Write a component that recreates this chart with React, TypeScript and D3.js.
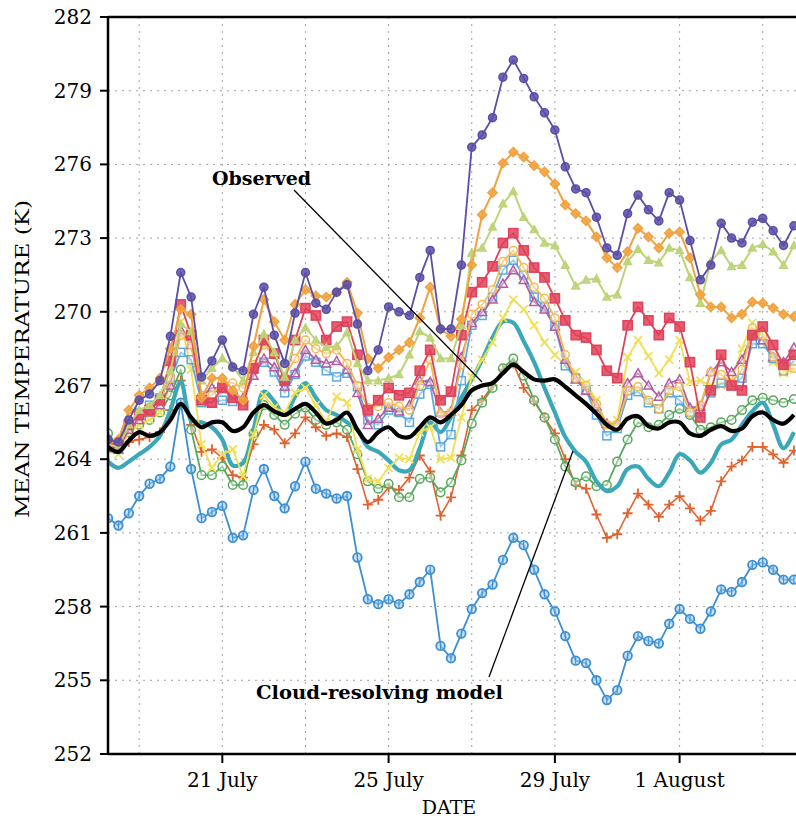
import React from "react";
import * as d3 from "d3";

// time grid: every 6 hours, day-of-July (1 August = 32)
const DAYS = d3.range(67).map((i) => 18.25 + i * 0.25);

const PURPLE = [264.8,264.7,265.6,266.4,266.65,267.2,269.0,271.6,270.6,267.35,268.0,268.85,267.75,267.6,269.9,271.0,269.05,267.9,269.95,271.6,270.35,270.1,270.8,271.1,269.5,267.6,268.45,270.2,270.0,269.85,271.4,272.5,269.3,269.3,271.9,276.7,277.2,277.9,279.55,280.25,279.5,278.75,278.1,277.4,275.9,275.0,274.85,273.85,272.6,272.3,274.0,274.75,274.15,273.7,274.85,274.55,272.9,271.3,271.9,273.6,273.0,272.8,273.65,273.8,273.3,272.7,273.5];
const ORANGE = [264.7,264.8,266.0,266.6,266.9,267.3,268.5,270.1,269.9,266.5,267.3,267.3,266.8,266.4,268.6,270.5,269.6,268.85,270.3,270.9,270.65,270.6,270.8,271.2,269.95,268.1,267.7,268.15,268.45,268.75,269.75,271.0,269.3,269.0,269.7,271.9,273.95,274.85,276.05,276.5,276.3,275.95,275.7,275.2,274.35,274.0,273.7,273.05,272.2,271.8,272.45,273.4,273.05,272.6,273.2,273.25,272.2,270.7,270.2,270.2,269.75,269.9,270.4,270.35,270.15,269.9,269.8];
const LIGHT_GREEN = [264.6,264.5,265.4,266.0,266.2,266.6,267.6,269.5,269.2,267.2,267.7,268.1,267.8,267.2,268.35,269.1,268.35,267.35,268.85,269.35,268.85,268.55,268.6,269.15,267.9,267.2,267.2,267.3,267.45,268.25,269.2,268.95,268.1,268.1,269.45,272.4,272.6,273.45,274.4,274.9,273.85,273.35,272.8,272.7,271.9,271.05,271.3,271.35,270.6,270.7,272.05,272.55,272.1,272.0,272.6,272.5,271.4,270.35,272.05,272.5,271.85,271.9,272.6,272.75,272.45,271.9,272.7];
const RED = [264.5,264.6,265.4,265.8,266.0,266.4,268.0,270.3,269.05,266.4,266.3,266.9,266.5,266.2,267.7,268.85,268.3,267.2,268.85,270.15,269.85,268.85,269.4,269.6,268.25,266.0,266.4,266.9,266.6,266.7,267.6,268.45,266.4,266.75,269.05,270.8,271.2,271.85,272.8,273.2,272.5,271.8,271.4,270.55,269.65,269.05,268.95,268.45,267.6,267.3,269.45,270.2,269.65,269.05,269.75,269.4,267.95,265.7,266.8,268.25,267.0,266.8,269.05,269.4,268.65,267.85,268.25];
const LIGHT_ORANGE = [264.55,264.5,265.4,265.8,266.1,266.4,267.3,269.05,268.65,266.6,266.6,267.15,267.1,266.9,267.85,268.65,268.25,267.35,268.1,268.85,268.5,268.3,268.45,267.9,267.0,266.1,266.15,266.3,266.15,266.0,267.0,268.05,265.85,265.9,267.85,269.9,270.3,270.9,272.05,272.5,271.8,271.0,270.55,269.75,268.25,267.3,267.0,266.25,265.4,265.4,266.8,266.95,266.4,266.05,266.8,266.95,265.9,266.2,267.55,267.45,267.1,267.65,269.35,269.05,268.15,267.6,267.7];
const PINK = [264.5,264.4,265.2,265.6,265.9,266.2,267.0,269.25,268.65,266.55,266.9,266.9,266.6,266.5,267.4,268.1,267.75,266.95,267.5,268.45,268.05,267.9,268.0,267.65,266.7,265.4,265.65,266.1,265.95,266.2,267.2,267.15,265.9,265.95,268.15,269.55,270.0,270.5,271.15,271.7,271.3,270.4,270.1,269.4,268.05,267.25,266.8,266.15,265.45,265.4,267.1,267.5,267.0,266.55,267.1,267.25,266.1,266.15,267.55,267.95,267.55,268.05,269.1,268.85,268.15,267.95,268.55];
const LIGHT_BLUE = [264.5,264.4,265.4,265.9,266.2,266.5,267.25,268.35,268.05,266.3,266.3,266.4,266.35,266.35,267.65,267.95,267.55,266.7,267.45,268.2,267.95,267.6,267.35,267.5,266.95,265.6,265.4,266.0,265.9,265.5,266.65,267.05,264.5,265.0,267.2,269.45,269.85,270.6,271.7,272.1,271.5,270.6,270.2,269.45,267.8,267.3,266.8,265.8,264.95,265.25,266.6,266.75,266.3,266.05,266.7,266.4,265.9,265.9,266.7,267.1,267.0,267.3,268.7,268.7,268.1,267.6,268.0];
const YELLOW = [264.4,264.2,265.1,265.4,265.6,265.9,267.0,269.6,267.65,264.6,263.65,264.2,264.4,263.3,265.0,266.6,266.1,265.9,266.7,266.9,266.2,265.5,266.55,266.3,264.4,263.2,263.1,263.65,264.05,264.0,265.1,265.3,264.0,264.05,265.7,267.35,268.05,268.75,269.75,270.5,270.1,269.45,268.75,268.25,267.85,267.55,267.1,266.4,265.4,265.6,268.15,268.85,268.2,267.5,268.05,268.85,267.15,267.2,267.0,267.0,267.2,268.5,269.55,269.0,267.95,267.5,267.65];
const TEAL = [263.9,263.65,263.9,264.2,264.5,264.95,266.0,267.15,265.6,265.5,265.3,264.8,263.75,263.85,265.2,266.75,266.35,265.8,266.55,267.1,266.5,266.0,265.8,265.5,265.2,264.5,264.3,263.95,263.55,263.55,264.45,265.5,265.1,265.7,266.5,267.25,268.05,268.95,269.6,269.55,268.8,267.95,266.9,265.9,264.9,264.3,263.9,263.1,262.7,262.9,263.6,263.7,263.2,262.9,263.45,264.2,263.95,263.45,263.85,264.6,264.8,265.4,265.95,266.3,265.4,264.45,265.1];
const GREEN = [265.05,264.5,265.1,265.4,265.6,265.9,266.6,267.65,265.2,263.35,263.35,263.7,262.95,262.95,265.05,266.2,265.8,265.4,265.85,266.1,265.6,265.4,265.5,265.2,264.2,263.1,262.8,263.0,262.45,262.45,263.2,263.25,262.65,263.05,263.95,265.45,266.3,266.9,267.7,268.1,267.4,266.4,265.7,264.8,263.7,263.05,263.3,262.9,262.95,263.9,264.8,265.5,265.3,265.4,265.8,266.05,265.8,265.2,265.3,265.5,265.6,266.0,266.4,266.5,266.4,266.3,266.45];
const PLUS = [264.6,264.6,264.7,264.8,264.9,265.1,266.0,267.2,265.4,264.3,264.4,264.05,263.35,263.25,264.6,265.4,265.2,264.65,265.05,265.7,265.3,264.95,265.05,264.9,263.6,262.15,262.35,262.85,262.75,263.25,264.15,263.5,261.7,262.45,264.15,266.0,266.4,267.0,267.65,267.9,266.9,266.35,265.7,265.05,264.0,262.95,262.8,261.75,260.8,260.95,261.8,262.6,262.15,261.65,262.15,262.5,262.0,261.5,261.9,263.1,263.7,263.95,264.5,264.5,264.2,263.85,264.35];
const BLUE = [261.6,261.3,261.8,262.5,263.0,263.2,263.7,266.3,263.6,261.6,261.85,262.1,260.8,260.9,262.75,263.6,262.5,262.0,262.9,263.9,262.8,262.6,262.4,262.5,260.0,258.3,258.1,258.3,258.1,258.5,259.0,259.5,256.4,255.9,256.9,257.9,258.55,258.9,259.9,260.8,260.5,259.5,258.5,257.8,256.8,255.8,255.7,255.0,254.2,254.6,256.0,256.8,256.6,256.5,257.3,257.9,257.5,257.1,257.8,258.7,258.6,259.0,259.7,259.8,259.5,259.1,259.1];
const OBSERVED = [264.5,264.3,264.75,265.1,264.95,265.1,265.6,266.25,265.7,265.3,265.5,265.5,265.15,265.3,265.9,266.2,265.95,265.8,266.05,266.25,265.9,265.45,265.6,265.9,265.2,264.7,265.1,265.3,264.95,264.9,265.3,265.7,265.5,265.8,266.2,266.8,267.0,267.1,267.5,267.85,267.55,267.25,267.2,267.25,266.95,266.6,266.25,265.85,265.4,265.2,265.65,265.75,265.35,265.25,265.5,265.5,265.05,264.95,265.2,265.35,265.15,265.25,265.75,265.9,265.6,265.45,265.8];

const Y_TICKS = [252, 255, 258, 261, 264, 267, 270, 273, 276, 279, 282];
const X_TICKS = [21, 25, 29, 32];
const X_TICK_LABELS = ["21 July", "25 July", "29 July", "1 August"];
const X_GRID = [19, 21, 23, 25, 27, 29, 32, 34];

type Marker = "circle" | "dotCircle" | "diamond" | "triangle" | "square" | "cross" | "x" | "none";

interface Series {
  values: number[];
  color: string;
  marker: Marker;
  filled: boolean;
  width: number;
  size: number;
  smooth?: boolean;
}

// drawn bottom to top
const SERIES: Series[] = [
  { values: BLUE, color: "#3b8fd2", marker: "dotCircle", filled: false, width: 1.8, size: 4.3 },
  { values: PLUS, color: "#e0622f", marker: "cross", filled: false, width: 1.6, size: 5 },
  { values: GREEN, color: "#55a95b", marker: "circle", filled: false, width: 1.8, size: 4.3 },
  { values: TEAL, color: "#3aa8b8", marker: "none", filled: false, width: 4.2, size: 0, smooth: true },
  { values: YELLOW, color: "#f0e055", marker: "x", filled: false, width: 1.8, size: 4 },
  { values: LIGHT_BLUE, color: "#5aa9df", marker: "square", filled: false, width: 1.8, size: 4 },
  { values: PINK, color: "#b25ea2", marker: "triangle", filled: false, width: 1.8, size: 4.5 },
  { values: LIGHT_ORANGE, color: "#f2bb52", marker: "circle", filled: false, width: 1.8, size: 4 },
  { values: RED, color: "#e0425a", marker: "square", filled: true, width: 1.8, size: 4.6 },
  { values: LIGHT_GREEN, color: "#bcd477", marker: "triangle", filled: true, width: 2, size: 3.8 },
  { values: ORANGE, color: "#f1a23e", marker: "diamond", filled: true, width: 2, size: 4.6 },
  { values: PURPLE, color: "#5a4ea6", marker: "circle", filled: true, width: 1.8, size: 4 },
  { values: OBSERVED, color: "#000000", marker: "none", filled: false, width: 4.2, size: 0, smooth: true },
];

const W = 796;
const H = 819;
const M = { left: 108, right: 796, top: 17, bottom: 754 };
const FONT = "'DejaVu Serif', serif";

const MarkerShape: React.FC<{ x: number; y: number; s: Series }> = ({ x, y, s }) => {
  const r = s.size;
  const fill = s.filled ? s.color : "#fff";
  const common = { stroke: s.color, strokeWidth: 1.5, fill, fillOpacity: s.filled ? 0.85 : 0.4 };
  switch (s.marker) {
    case "circle":
      return <circle cx={x} cy={y} r={r} {...common} />;
    case "dotCircle":
      return (
        <g>
          <circle cx={x} cy={y} r={r} stroke={s.color} strokeWidth={1.8} fill="#a9cdec" fillOpacity={0.6} />
          <line x1={x} y1={y - r + 1} x2={x} y2={y + r - 1} stroke={s.color} strokeWidth={1.1} />
        </g>
      );
    case "diamond":
      return <path d={`M${x},${y - r}L${x + r},${y}L${x},${y + r}L${x - r},${y}Z`} {...common} />;
    case "triangle":
      return <path d={`M${x},${y - r}L${x + r},${y + r * 0.8}L${x - r},${y + r * 0.8}Z`} {...common} />;
    case "square":
      return <rect x={x - r} y={y - r} width={2 * r} height={2 * r} {...common} />;
    case "cross":
      return <path d={`M${x - r},${y}H${x + r}M${x},${y - r}V${y + r}`} stroke={s.color} strokeWidth={1.8} />;
    case "x":
      return <path d={`M${x - r},${y - r}L${x + r},${y + r}M${x - r},${y + r}L${x + r},${y - r}`} stroke={s.color} strokeWidth={1.8} />;
    default:
      return null;
  }
};

export default function App() {
  const x = d3.scaleLinear().domain([18.25, 34.8]).range([M.left, M.right]);
  const y = d3.scaleLinear().domain([252, 282]).range([M.bottom, M.top]);

  const lineFor = (s: Series) =>
    d3
      .line<number>()
      .x((_, i) => x(DAYS[i]))
      .y((v) => y(v))
      .curve(s.smooth ? d3.curveCatmullRom.alpha(0.5) : d3.curveLinear)(s.values) || "";

  return (
    <svg
      width={W}
      height={H}
      style={{ position: "absolute", left: 0, top: 0, background: "#fff" }}
      fontFamily={FONT}
    >
      <defs>
        <clipPath id="plot">
          <rect x={M.left} y={M.top} width={M.right - M.left} height={M.bottom - M.top} />
        </clipPath>
      </defs>

      {/* grid */}
      <g stroke="#a0a0a0" strokeWidth={1} strokeDasharray="2,5">
        {Y_TICKS.slice(1, -1).map((t) => (
          <line key={t} x1={M.left} x2={M.right} y1={y(t)} y2={y(t)} />
        ))}
        {X_GRID.map((d) => (
          <line key={d} x1={x(d)} x2={x(d)} y1={M.top} y2={M.bottom} />
        ))}
      </g>

      {/* series */}
      <g clipPath="url(#plot)">
        {SERIES.map((s, si) => (
          <g key={si}>
            <path
              d={lineFor(s)}
              fill="none"
              stroke={s.color}
              strokeWidth={s.width}
              strokeLinejoin="round"
            />
            {s.marker !== "none" &&
              s.values.map((v, i) => <MarkerShape key={i} x={x(DAYS[i])} y={y(v)} s={s} />)}
          </g>
        ))}
      </g>

      {/* frame */}
      <g stroke="#000" strokeWidth={2.5} fill="none">
        <line x1={M.left} x2={M.right} y1={M.top} y2={M.top} />
        <line x1={M.left} x2={M.left} y1={M.top - 1} y2={M.bottom + 1} />
        <line x1={M.left} x2={M.right} y1={M.bottom} y2={M.bottom} />
      </g>

      {/* y axis */}
      {Y_TICKS.map((t) => (
        <g key={t}>
          <line x1={M.left - 8} x2={M.left} y1={y(t)} y2={y(t)} stroke="#000" strokeWidth={2} />
          <text x={M.left - 16} y={y(t) + 7} textAnchor="end" fontSize={20}>
            {t}
          </text>
        </g>
      ))}
      <text
        transform={`translate(29, 359) rotate(-90)`}
        textAnchor="middle"
        fontSize={19}
        textLength={318}
        lengthAdjust="spacingAndGlyphs"
      >
        MEAN TEMPERATURE (K)
      </text>

      {/* x axis */}
      {X_TICKS.map((d, i) => (
        <g key={d}>
          <line x1={x(d)} x2={x(d)} y1={M.bottom} y2={M.bottom + 9} stroke="#000" strokeWidth={2} />
          <text x={x(d)} y={787} textAnchor="middle" fontSize={20}>
            {X_TICK_LABELS[i]}
          </text>
        </g>
      ))}
      <text x={449} y={814} textAnchor="middle" fontSize={19}>
        DATE
      </text>

      {/* annotations */}
      <text x={212} y={185} fontSize={19} fontWeight="bold">
        Observed
      </text>
      <line x1={294} y1={190} x2={482} y2={382} stroke="#000" strokeWidth={1.3} />
      <text x={256} y={699} fontSize={19} fontWeight="bold" textLength={247} lengthAdjust="spacingAndGlyphs">
        Cloud-resolving model
      </text>
      <line x1={489} y1={677} x2={573} y2={451} stroke="#000" strokeWidth={1.3} />
    </svg>
  );
}
